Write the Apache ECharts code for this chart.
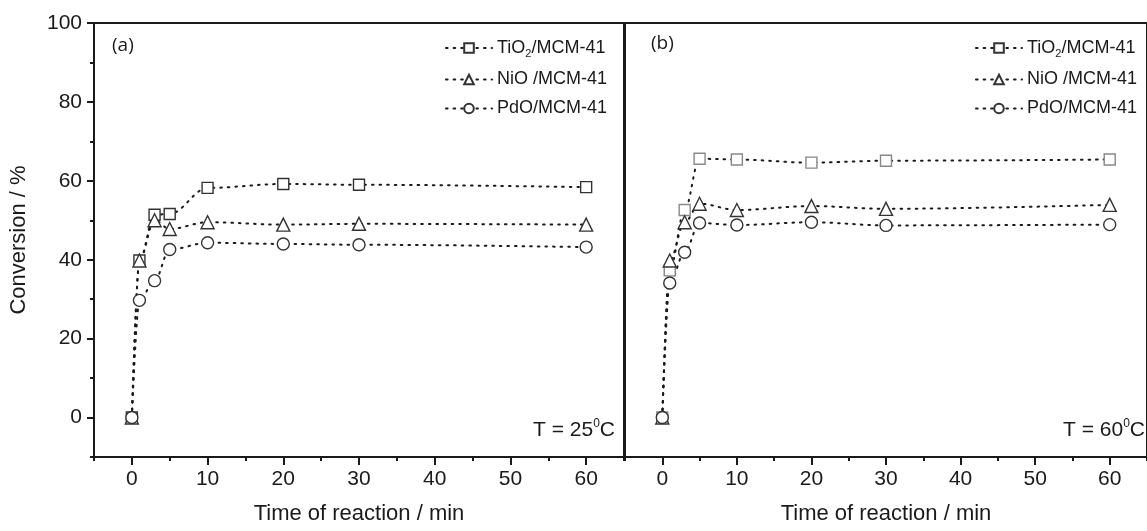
<!DOCTYPE html>
<html>
<head>
    <meta charset="UTF-8">
    <title>Conversion</title>
    <style>
        html, body {margin:0; padding:0; background:#fff;}
        #main {width:1147px; height:531px;}
    </style>
</head>
<body>
<div id="main"></div>

<script src="https://cdn.jsdelivr.net/npm/echarts@6/dist/echarts.min.js"></script>
<script>
    // reaction time (min)
    var times = [0, 1, 3, 5, 10, 20, 30, 60];

    // (a) T = 25 C
    var tio2A = [0, 39.8, 51.4, 51.6, 58.2, 59.2, 59.0, 58.4];
    var nioA  = [0, 39.8, 50.0, 47.8, 49.5, 48.9, 49.1, 48.9];
    var pdoA  = [0, 29.7, 34.7, 42.6, 44.3, 44.0, 43.8, 43.2];

    // (b) T = 60 C
    var tio2B = [0, 37.3, 52.6, 65.6, 65.4, 64.6, 65.1, 65.4];
    var nioB  = [0, 39.8, 49.5, 54.2, 52.6, 53.6, 52.9, 53.9];
    var pdoB  = [0, 34.1, 41.9, 49.3, 48.8, 49.5, 48.7, 48.9];

    var seriesNames = ['TiO2/MCM-41', 'NiO /MCM-41', 'PdO/MCM-41'];
    var xTicks = [0, 10, 20, 30, 40, 50, 60];
    var yTicks = [0, 20, 40, 60, 80, 100];

    var font = 'Liberation Sans';
    var ink = '#1a1a1a';

    function pairs(ys) {
        return times.map(function (t, i) { return [t, ys[i]]; });
    }

    function legendText(name) {
        if (name.indexOf('TiO2') === 0) {
            return '{a|TiO}{s|2}{a|/MCM-41}';
        }
        return '{a|' + name + '}';
    }

    function mkSeries(name, ys, symbol, size, edge, grid) {
        return {
            name: name,
            type: 'line',
            xAxisIndex: grid * 2,
            yAxisIndex: grid * 2,
            data: pairs(ys),
            smooth: 0.35,
            smoothMonotone: 'x',
            symbol: symbol,
            symbolSize: size,
            showAllSymbol: true,
            lineStyle: {color: ink, width: 2, type: [1.6, 6], cap: 'round'},
            itemStyle: {color: '#fff', borderColor: edge, borderWidth: 1.4},
            emphasis: {disabled: true},
            z: 3
        };
    }

    function mainX(grid, name) {
        return {
            type: 'value', gridIndex: grid,
            min: -5, max: 65, interval: 5,
            position: 'bottom',
            name: name, nameLocation: 'middle', nameGap: 46,
            nameTextStyle: {fontFamily: font, fontSize: 22, color: ink},
            axisLine: {show: true, onZero: false, lineStyle: {color: ink, width: 2}},
            axisTick: {show: true, inside: false, length: 8, customValues: xTicks,
                lineStyle: {color: ink, width: 2}},
            axisLabel: {customValues: xTicks, margin: 12, fontFamily: font, fontSize: 21, color: ink},
            splitLine: {show: false}
        };
    }

    function minorX(grid) {
        return {
            type: 'value', gridIndex: grid,
            min: -5, max: 65, interval: 5,
            position: 'bottom',
            axisLine: {show: false, onZero: false},
            axisTick: {show: true, length: 4, lineStyle: {color: ink, width: 2}},
            axisLabel: {show: false},
            splitLine: {show: false}
        };
    }

    function tempLabel(text, right) {
        return {
            text: text, right: right, top: 418, padding: 0,
            textStyle: {fontWeight: 'normal', rich: {
                a: {fontFamily: font, fontSize: 21, fontWeight: 'normal', color: ink},
                s: {fontFamily: font, fontSize: 12, fontWeight: 'normal', color: ink, padding: [0, 0, 12, 0]}
            }}
        };
    }

    function panelLegend(left) {
        return {
            orient: 'vertical', left: left, top: 34,
            itemWidth: 46, itemHeight: 12, itemGap: 11,
            data: seriesNames,
            selectedMode: false,
            formatter: legendText,
            textStyle: {
                color: ink,
                rich: {
                    a: {fontFamily: font, fontSize: 18, color: ink},
                    s: {fontFamily: font, fontSize: 11, color: ink, padding: [12, 0, 0, 0]}
                }
            }
        };
    }

    var option = {
        backgroundColor: '#fff',
        animation: false,
        grid: [
            {left: 94, top: 23, width: 530, height: 434, show: true, borderColor: ink, borderWidth: 2},
            {left: 625, top: 23, width: 530, height: 434, show: true, borderColor: ink, borderWidth: 2}
        ],
        xAxis: [
            mainX(0, 'Time of reaction / min'), minorX(0),
            mainX(1, 'Time of reaction / min'), minorX(1)
        ],
        yAxis: [
            {
                type: 'value', gridIndex: 0, position: 'left',
                min: -10, max: 100, interval: 10,
                name: 'Conversion / %', nameLocation: 'middle', nameGap: 64,
                nameTextStyle: {fontFamily: font, fontSize: 22, color: ink},
                axisLine: {show: true, onZero: false, lineStyle: {color: ink, width: 2}},
                axisTick: {show: true, length: 7, customValues: yTicks, lineStyle: {color: ink, width: 2}},
                axisLabel: {customValues: yTicks, margin: 12, fontFamily: font, fontSize: 21, color: ink},
                splitLine: {show: false}
            },
            {
                type: 'value', gridIndex: 0, position: 'left',
                min: -10, max: 100, interval: 10,
                axisLine: {show: false, onZero: false},
                axisTick: {show: true, length: 4, lineStyle: {color: ink, width: 2}},
                axisLabel: {show: false},
                splitLine: {show: false}
            },
            {
                type: 'value', gridIndex: 1, position: 'left',
                min: -10, max: 100, interval: 10,
                axisLine: {show: true, onZero: false, lineStyle: {color: ink, width: 2}},
                axisTick: {show: false},
                axisLabel: {show: false},
                splitLine: {show: false}
            },
            {
                type: 'value', gridIndex: 1, position: 'left',
                min: -10, max: 100, interval: 10, show: false
            }
        ],
        legend: [panelLegend(440), panelLegend(970)],
        title: [
            {text: '(a)', left: 112, top: 36, padding: 0,
                textStyle: {fontFamily: 'Open Sans', fontSize: 19, fontWeight: 'normal', color: ink}},
            {text: '(b)', left: 651, top: 34, padding: 0,
                textStyle: {fontFamily: 'Open Sans', fontSize: 19, fontWeight: 'normal', color: ink}},
            tempLabel('{a|T = 25}{s|0}{a|C}', 532),
            tempLabel('{a|T = 60}{s|0}{a|C}', 2)
        ],
        series: [
            mkSeries(seriesNames[0], tio2A, 'rect', 11, '#333', 0),
            mkSeries(seriesNames[1], nioA, 'triangle', 13, '#333', 0),
            mkSeries(seriesNames[2], pdoA, 'circle', 12, '#333', 0),
            mkSeries(seriesNames[0], tio2B, 'rect', 11, '#888', 1),
            mkSeries(seriesNames[1], nioB, 'triangle', 13, '#333', 1),
            mkSeries(seriesNames[2], pdoB, 'circle', 12, '#333', 1)
        ]
    };

    var myChart = echarts.init(document.getElementById('main'));
    myChart.setOption(option);
</script>
</body>
</html>
